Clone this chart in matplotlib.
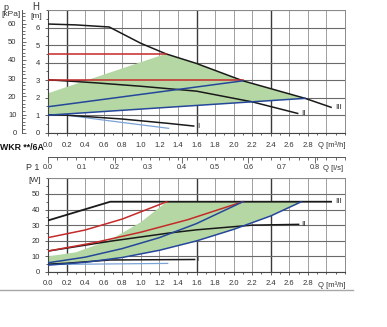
import numpy as np
import matplotlib
matplotlib.use('Agg')
from matplotlib import pyplot as plt
from matplotlib.lines import Line2D
from matplotlib.ticker import MultipleLocator, FixedLocator, NullFormatter

plt.rcParams['font.family'] = ['Liberation Sans', 'DejaVu Sans']

W, H = 387, 327
M3H_PER_LS = 3.6
KPA_TO_M = 0.1038

# head H [m] vs flow Q [m3/h]
q_h_iii = [0, 0.3, 0.66, 1.0, 1.27, 1.6, 2.1, 2.77, 3.05]
h_iii = [6.2, 6.15, 6.03, 5.1, 4.5, 3.95, 2.96, 1.96, 1.45]
q_h_ii = [0, 0.5, 1.0, 1.6, 2.2, 2.69]
h_ii = [3.02, 2.85, 2.65, 2.37, 1.76, 1.1]
q_h_i = [0, 0.2, 0.8, 1.3, 1.57]
h_i = [1.02, 1.0, 0.78, 0.53, 0.38]
q_h_lb = [0, 0.2, 0.6, 1.0, 1.3]
h_lb = [1.02, 1.0, 0.72, 0.45, 0.25]
q_h_blue_lo = [0, 2.77]
h_blue_lo = [1.0, 1.96]
q_h_blue_hi = [0, 2.1]
h_blue_hi = [1.48, 2.96]
q_h_red_hi = [0, 1.27]
h_red_hi = [4.5, 4.5]
q_h_red_lo = [0, 2.1]
h_red_lo = [3.0, 3.0]
q_h_green = [0, 1.27]
h_green = [2.25, 4.5]

# power input P1 [W] vs flow Q [m3/h]
q_p_iii = [0, 0.67, 3.05]
p_iii = [33, 45, 45]
q_p_ii = [0, 0.67, 1.31, 1.6, 2.2, 2.7]
p_ii = [13.4, 19.7, 25.0, 27.0, 30.0, 30.5]
q_p_i = [0, 0.2, 0.67, 1.58]
p_i = [5.0, 5.6, 7.7, 8.0]
q_p_lb = [0, 1.29]
p_lb = [4.8, 5.5]
q_p_blue_a = [0, 0.4, 0.8, 1.2, 1.6, 2.1]
p_blue_a = [5.9, 9.5, 15.0, 22.0, 31.0, 45]
q_p_blue_b = [0, 0.4, 0.8, 1.2, 1.6, 2.0, 2.4, 2.73]
p_blue_b = [4.4, 6.2, 9.3, 13.9, 19.9, 27.3, 35.9, 45]
q_p_red_a = [0, 0.4, 0.8, 1.28]
p_red_a = [22, 26.9, 33.9, 45]
q_p_red_b = [0, 0.5, 1.0, 1.5, 2.1]
p_red_b = [13.4, 18.8, 25.5, 33.4, 45]
q_p_green = [0, 0.3, 0.67, 1.0, 1.28]
p_green = [10, 12.6, 20.5, 31.9, 45]

q_labels = np.arange(0, 2.81, 0.2)
ls_labels = np.arange(0, 0.81, 0.1)

BLACK = '#1a1a1a'
RED = '#c42a2a'
BLUE = '#25479a'
LIGHTBLUE = '#7aa3d6'
GREEN = '#b5d7a3'
TXT = '#333333'


def box(l, t, r, b):
    return [l / W, 1 - b / H, (r - l) / W, (b - t) / H]


def ftext(x, y, s, **kw):
    kw.setdefault('fontsize', 5.5)
    kw.setdefault('color', TXT)
    kw.setdefault('va', 'center')
    fig.text(x / W, 1 - y / H, s, **kw)


def grid(ax, ymax, ystep):
    for q in np.arange(0, 3.21, 0.2):
        dark = any(abs(q - d) < 1e-6 for d in (0.2, 1.6, 2.4))
        ax.axvline(q, color='#3a3a3a' if dark else '#a0a0a0',
                   lw=1.0 if dark else 0.7, zorder=0)
    for y in np.arange(0, ymax + 0.01, ystep):
        ax.axhline(y, color='#6a6a6a', lw=0.8, zorder=0)


def style(ax):
    for s in ('top', 'right'):
        ax.spines[s].set_color('#8a8a8a')
        ax.spines[s].set_linewidth(0.7)
    for s in ('left', 'bottom'):
        ax.spines[s].set_color('#444444')
        ax.spines[s].set_linewidth(0.8)
    ax.xaxis.set_major_locator(FixedLocator(q_labels))
    ax.xaxis.set_minor_locator(MultipleLocator(0.1))
    ax.xaxis.set_major_formatter(plt.FuncFormatter(lambda v, _: f'{v:.1f}'))
    ax.tick_params(which='both', labelsize=5.5, labelcolor=TXT, color='#444444',
                   width=0.6, direction='out')
    ax.tick_params(which='major', length=2.2)
    ax.tick_params(which='minor', length=1.5)


fig = plt.figure(figsize=(W / 100, H / 100), dpi=100)

# ---- head curves ----
ax = fig.add_axes(box(48, 10, 345, 132.7))
ax.set_xlim(0, 3.2)
ax.set_ylim(0, 7)
grid(ax, 7, 1)
style(ax)
ax.yaxis.set_major_locator(FixedLocator(range(0, 7)))
ax.yaxis.set_minor_locator(MultipleLocator(0.5))
ax.tick_params(axis='x', pad=4.5)
ax.tick_params(axis='y', pad=3.5)

# green operating range
qi = np.linspace(q_h_green[-1], q_h_blue_lo[-1], 30)
top_q = np.concatenate([q_h_green, qi])
top_h = np.concatenate([h_green, np.interp(qi, q_h_iii, h_iii)])
poly_q = np.concatenate([top_q, q_h_blue_lo[::-1]])
poly_h = np.concatenate([top_h, h_blue_lo[::-1]])
ax.fill(poly_q, poly_h, color=GREEN, lw=0, zorder=1)

ax.plot(q_h_lb, h_lb, color=LIGHTBLUE, lw=0.9, zorder=2)
ax.plot(q_h_i, h_i, color=BLACK, lw=1.1, zorder=3)
ax.plot(q_h_ii, h_ii, color=BLACK, lw=1.1, zorder=3)
ax.plot(q_h_iii, h_iii, color=BLACK, lw=1.1, zorder=3)
ax.plot(q_h_red_hi, h_red_hi, color=RED, lw=1.1, zorder=4)
ax.plot(q_h_red_lo, h_red_lo, color=RED, lw=1.1, zorder=4)
ax.plot(q_h_blue_lo, h_blue_lo, color=BLUE, lw=1.1, zorder=4)
ax.plot(q_h_blue_hi, h_blue_hi, color=BLUE, lw=1.1, zorder=4)

ax.text(q_h_iii[-1] + 0.05, h_iii[-1], 'III', fontsize=6, color=TXT, va='center')
ax.text(q_h_ii[-1] + 0.04, h_ii[-1], 'II', fontsize=6, color=TXT, va='center')
ax.text(q_h_i[-1] + 0.04, h_i[-1], 'I', fontsize=6, color=TXT, va='center')

# pressure scale in kPa
axp = fig.add_axes(box(22, 10, 23, 132.7))
axp.set_ylim(0, 7 / KPA_TO_M)
axp.set_xticks([])
for s in ('top', 'right', 'bottom'):
    axp.spines[s].set_visible(False)
axp.spines['left'].set_color('#555555')
axp.spines['left'].set_linewidth(0.7)
axp.yaxis.set_major_locator(FixedLocator(range(0, 61, 10)))
axp.yaxis.set_minor_locator(MultipleLocator(2))
axp.tick_params(axis='y', which='both', direction='in', labelsize=5.5,
                labelcolor=TXT, color='#555555', width=0.6, pad=4)
axp.tick_params(axis='y', which='major', length=3)
axp.tick_params(axis='y', which='minor', length=1.8)
axp.patch.set_visible(False)

ftext(3, 7, 'p', fontsize=6.5)
ftext(1, 15, '[kPa]', fontsize=6)
ftext(32, 7, 'H', fontsize=7)
ftext(30, 16, '[m]', fontsize=6)
ftext(318, 145, 'Q [m³/h]', fontsize=5.5)
ftext(0, 148, 'WKR **/6A', fontsize=6.3, fontweight='bold', color='#111111')

# flow ruler between charts, m3/h minor and l/s marks
axr = fig.add_axes(box(48, 157, 345, 163))
axr.set_xlim(0, 3.2)
axr.set_yticks([])
for s in ('left', 'right', 'bottom'):
    axr.spines[s].set_visible(False)
axr.spines['top'].set_color('#555555')
axr.spines['top'].set_linewidth(0.7)
axr.xaxis.set_ticks_position('top')
axr.xaxis.set_major_locator(FixedLocator(np.arange(0, 0.81, 0.2) * M3H_PER_LS))
axr.xaxis.set_minor_locator(MultipleLocator(0.1))
axr.xaxis.set_major_formatter(NullFormatter())
axr.tick_params(axis='x', which='both', direction='in', color='#555555', width=0.6)
axr.tick_params(axis='x', which='major', length=4)
axr.tick_params(axis='x', which='minor', length=2)
axr.patch.set_visible(False)

# ---- power curves ----
bx = fig.add_axes(box(48, 178.3, 345, 272))
bx.set_xlim(0, 3.2)
bx.set_ylim(0, 60)
grid(bx, 60, 10)
style(bx)
bx.yaxis.set_major_locator(FixedLocator(range(0, 51, 10)))
bx.yaxis.set_minor_locator(MultipleLocator(5))
bx.tick_params(axis='x', pad=3.5)
bx.tick_params(axis='y', pad=3.5)

qb = np.linspace(q_p_green[-1], q_p_blue_b[-1], 2)
gq = np.concatenate([q_p_green, qb, q_p_blue_b[::-1]])
gp = np.concatenate([p_green, np.interp(qb, q_p_iii, p_iii), p_blue_b[::-1]])
bx.fill(gq, gp, color=GREEN, lw=0, zorder=1)

bx.plot(q_p_lb, p_lb, color=LIGHTBLUE, lw=0.9, zorder=2)
bx.plot(q_p_i, p_i, color=BLACK, lw=1.1, zorder=3)
bx.plot(q_p_ii, p_ii, color=BLACK, lw=1.1, zorder=3)
bx.plot(q_p_iii, p_iii, color=BLACK, lw=1.3, zorder=3)
bx.plot(q_p_red_a, p_red_a, color=RED, lw=1.1, zorder=4)
bx.plot(q_p_red_b, p_red_b, color=RED, lw=1.1, zorder=4)
bx.plot(q_p_blue_a, p_blue_a, color=BLUE, lw=1.1, zorder=4)
bx.plot(q_p_blue_b, p_blue_b, color=BLUE, lw=1.1, zorder=4)

bx.text(q_p_iii[-1] + 0.04, p_iii[-1], 'III', fontsize=6, color=TXT, va='center')
bx.text(q_p_ii[-1] + 0.03, p_ii[-1], 'II', fontsize=6, color=TXT, va='center')
bx.text(q_p_i[-1] + 0.02, p_i[-1], 'I', fontsize=6, color=TXT, va='center')

# l/s scale above the power chart
sec = bx.secondary_xaxis('top', functions=(lambda q: q / M3H_PER_LS,
                                           lambda v: v * M3H_PER_LS))
sec.set_xticks(ls_labels)
sec.xaxis.set_major_formatter(plt.FuncFormatter(lambda v, _: f'{v:.1f}'))
sec.tick_params(length=0, labelsize=5.2, labelcolor=TXT, pad=5)
sec.spines['top'].set_visible(False)

ftext(26, 168, 'P 1', fontsize=6.5)
ftext(28, 180, '[W]', fontsize=6)
ftext(323, 168, 'Q [l/s]', fontsize=5.5)
ftext(318, 285, 'Q [m³/h]', fontsize=5.5)

fig.add_artist(Line2D([0, 353 / W], [1 - 290 / H] * 2, transform=fig.transFigure,
                      color='#a8a8a8', lw=1.0))

fig.savefig('out.png', dpi=100)
